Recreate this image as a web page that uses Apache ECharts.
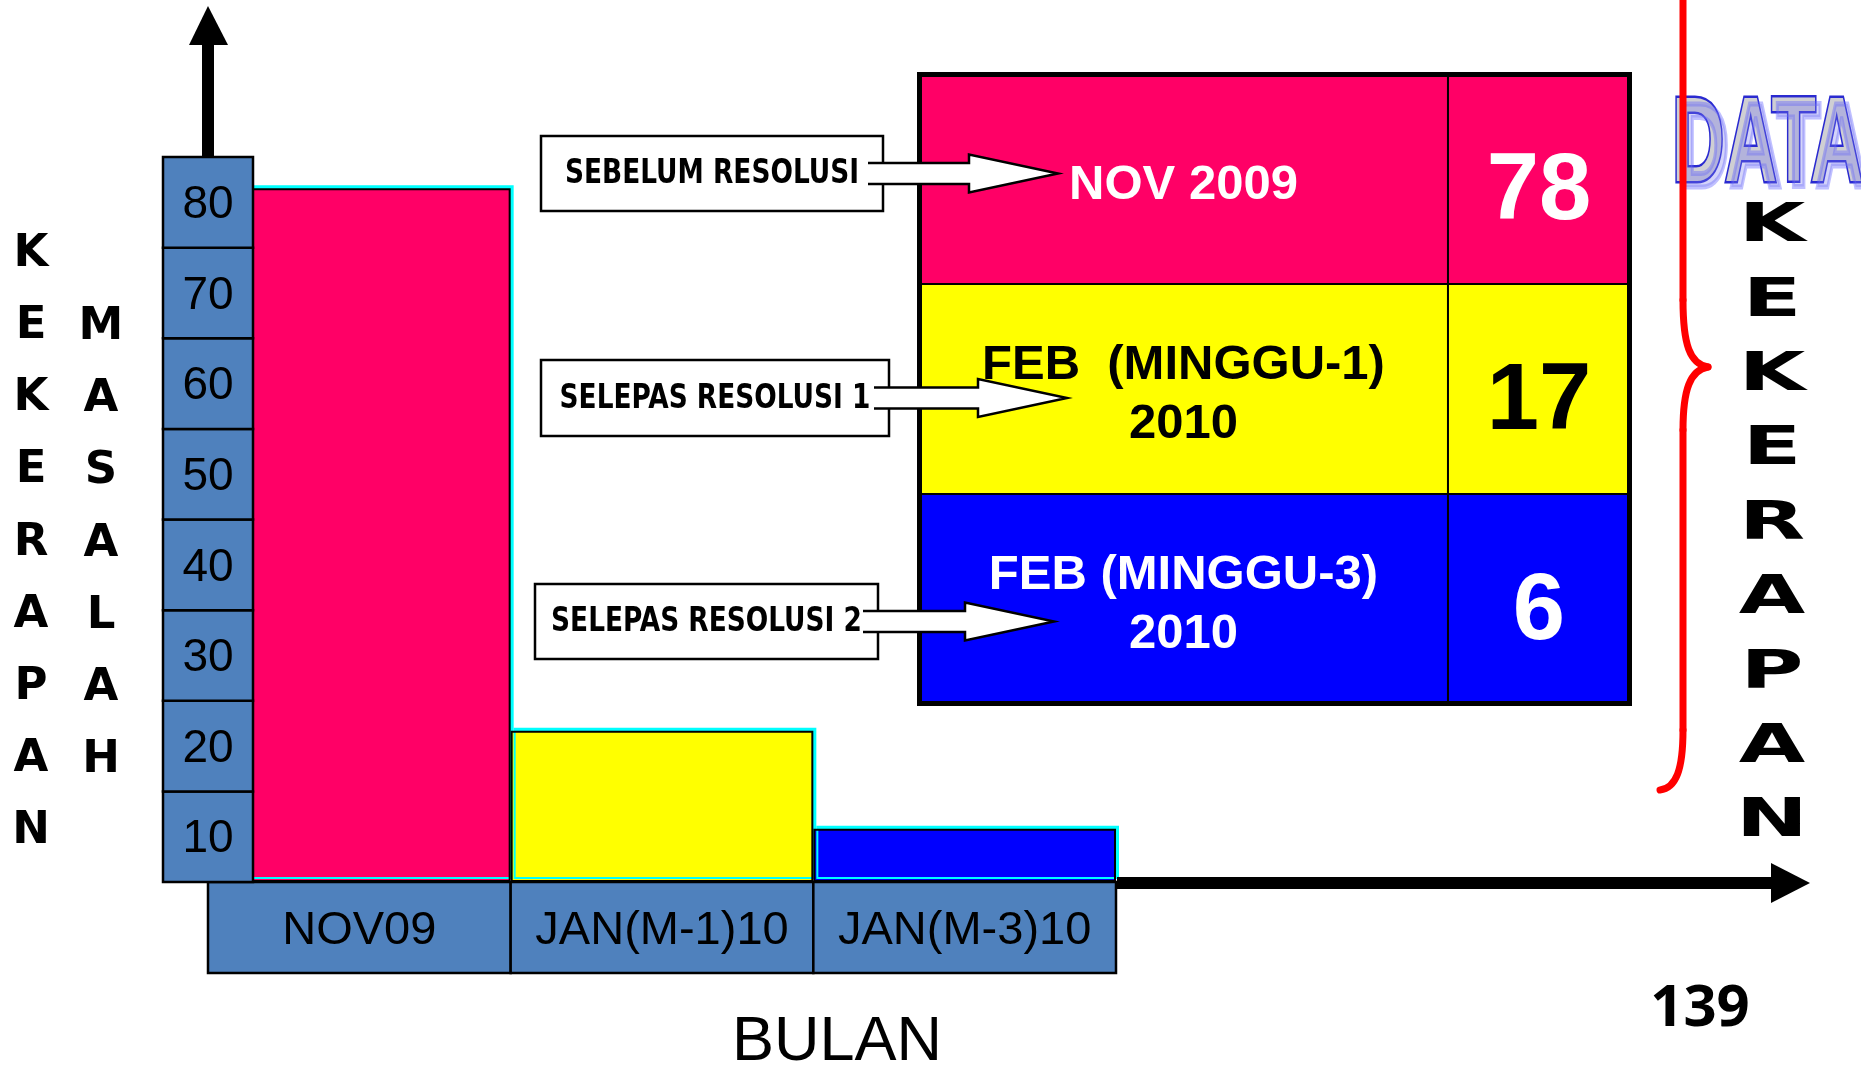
<!DOCTYPE html>
<html>
<head>
<meta charset="utf-8">
<script src="https://cdn.jsdelivr.net/npm/echarts@6/dist/echarts.min.js"></script>
<style>
  html, body { margin: 0; padding: 0; background: #ffffff; }
  #chart { width: 1861px; height: 1070px; }
</style>
</head>
<body>
<div id="chart"></div>
<script>
// Monthly problem counts before and after each resolution step
const months = ['NOV09', 'JAN(M-1)10', 'JAN(M-3)10'];
const counts = [78, 17, 6];
const yTicks = ['10', '20', '30', '40', '50', '60', '70', '80'];
const periods = ['NOV 2009', 'FEB  (MINGGU-1)\n2010', 'FEB (MINGGU-3)\n2010'];
const stages = ['SEBELUM RESOLUSI', 'SELEPAS RESOLUSI 1', 'SELEPAS RESOLUSI 2'];
const yTitleLeft = 'KEKERAPAN';
const yTitleRight = 'MASALAH';
const xTitle = 'BULAN';
const sideTitle = 'KEKERAPAN';
const bannerWord = 'DATA';
const pageNo = '139';

// Styling
const fills = ['#ff0066', '#ffff00', '#0000ff'];
const inkOnFill = ['#ffffff', '#000000', '#ffffff'];
const boxBlue = '#4f81bd';
const ARIAL = "'Liberation Sans', Arial, sans-serif";
const NARROW = "'Liberation Sans Narrow', 'DejaVu Sans Condensed', 'Liberation Sans', sans-serif";
const HEAVY = "'DejaVu Sans', sans-serif";

// Callout boxes with their arrows into the summary table
const calloutBoxes = [
  { x: 541, y: 136, w: 342, h: 75, head: 969, tip: 1058 },
  { x: 541, y: 360, w: 348, h: 76, head: 978, tip: 1067 },
  { x: 535, y: 584, w: 343, h: 75, head: 965, tip: 1054 }
];

function txt(style) {
  if (style.align) style.textAlign = style.align;
  if (style.verticalAlign) style.textVerticalAlign = style.verticalAlign;
  return style;
}

const graphics = [];

// Axis arrows
graphics.push({ type: 'rect', z: 6, shape: { x: 202, y: 44, width: 12, height: 113 }, style: { fill: '#000' } });
graphics.push({ type: 'polygon', z: 6, shape: { points: [[189, 45], [228, 45], [208, 6]] }, style: { fill: '#000' } });
graphics.push({ type: 'rect', z: 6, shape: { x: 1117, y: 877, width: 656, height: 12 }, style: { fill: '#000' } });
graphics.push({ type: 'polygon', z: 6, shape: { points: [[1771, 863], [1810, 883], [1771, 903]] }, style: { fill: '#000' } });

// Outer frame of the summary table
graphics.push({ type: 'rect', z: 7, shape: { x: 919.5, y: 74.5, width: 710, height: 629 },
  style: { fill: null, stroke: '#000', lineWidth: 5 } });

// Callouts
calloutBoxes.forEach((b, i) => {
  const cy = b.y + b.h / 2;
  const sx = b.x + b.w - 15, s = 10.5, hh = 19;
  const pts = [[sx, cy - s], [b.head, cy - s], [b.head, cy - hh], [b.tip, cy],
               [b.head, cy + hh], [b.head, cy + s], [sx, cy + s]];
  graphics.push({ type: 'rect', z: 8, shape: { x: b.x, y: b.y, width: b.w, height: b.h },
    style: { fill: '#fff', stroke: '#000', lineWidth: 2.5 } });
  graphics.push({ type: 'polygon', z: 9, shape: { points: pts }, style: { fill: '#fff' } });
  graphics.push({ type: 'polyline', z: 9, shape: { points: pts }, style: { fill: null, stroke: '#000', lineWidth: 2.5 } });
  graphics.push({ type: 'text', z: 10, x: b.x + b.w / 2, y: cy + 1, scaleX: 0.89,
    style: txt({ text: stages[i], x: 0, y: 0, fill: '#000', font: 'bold 33px ' + NARROW,
      align: 'center', verticalAlign: 'middle' }) });
});

// Vertical axis titles on the left
graphics.push({ type: 'text', z: 6, style: txt({ text: yTitleLeft.split('').join('\n'), x: 31, y: 543,
  fill: '#000', font: 'bold 45px ' + HEAVY, lineHeight: 72.2, align: 'center', verticalAlign: 'middle' }) });
graphics.push({ type: 'text', z: 6, style: txt({ text: yTitleRight.split('').join('\n'), x: 101, y: 544,
  fill: '#000', font: 'bold 45px ' + HEAVY, lineHeight: 72.2, align: 'center', verticalAlign: 'middle' }) });

// Horizontal axis title and page number
graphics.push({ type: 'text', z: 6, style: txt({ text: xTitle, x: 837, y: 1043, fill: '#000',
  font: '63px ' + ARIAL, align: 'center', verticalAlign: 'middle' }) });
graphics.push({ type: 'text', z: 6, style: txt({ text: pageNo, x: 1700, y: 1009, fill: '#000',
  font: "bold 58px 'Open Sans', 'Noto Sans', sans-serif", align: 'center', verticalAlign: 'middle' }) });

// Banner word with a translucent offset copy
graphics.push({ type: 'text', z: 11, x: 1672, y: 148, scaleX: 0.6,
  style: txt({ text: bannerWord, x: 0, y: 0, fill: '#cfcfd3', stroke: '#2a2ad0', lineWidth: 5,
    font: 'bold 121px ' + ARIAL, align: 'left', verticalAlign: 'middle' }) });
graphics.push({ type: 'text', z: 11, x: 1677, y: 154, scaleX: 0.6,
  style: txt({ text: bannerWord, x: 0, y: 0, fill: 'rgba(120,120,235,0.32)', stroke: 'rgba(90,90,255,0.38)', lineWidth: 5,
    font: 'bold 121px ' + ARIAL, align: 'left', verticalAlign: 'middle' }) });

// Side title, stretched wide
graphics.push({ type: 'text', z: 6, x: 1772, y: 525, scaleX: 1.62,
  style: txt({ text: sideTitle.split('').join('\n'), x: 0, y: 0, fill: '#000', font: 'bold 53px ' + HEAVY,
    lineHeight: 74.4, align: 'center', verticalAlign: 'middle' }) });

// Red brace built from straight runs and curves
const braceStyle = { fill: null, stroke: '#ff0000', lineWidth: 7, lineCap: 'round' };
graphics.push({ type: 'line', z: 12, shape: { x1: 1683, y1: -6, x2: 1683, y2: 300 }, style: braceStyle });
graphics.push({ type: 'bezierCurve', z: 12, shape: { x1: 1683, y1: 300, cpx1: 1683, cpy1: 345, cpx2: 1690, cpy2: 364, x2: 1708, y2: 367 }, style: braceStyle });
graphics.push({ type: 'bezierCurve', z: 12, shape: { x1: 1708, y1: 367, cpx1: 1690, cpy1: 370, cpx2: 1683, cpy2: 390, x2: 1683, y2: 430 }, style: braceStyle });
graphics.push({ type: 'line', z: 12, shape: { x1: 1683, y1: 430, x2: 1683, y2: 730 }, style: braceStyle });
graphics.push({ type: 'bezierCurve', z: 12, shape: { x1: 1683, y1: 730, cpx1: 1683, cpy1: 770, cpx2: 1676, cpy2: 788, x2: 1660, y2: 790 }, style: braceStyle });

const chart = echarts.init(document.getElementById('chart'), null, { renderer: 'canvas' });

chart.setOption({
  backgroundColor: '#ffffff',
  animation: false,
  grid: [
    { left: 208, top: 157, width: 908, height: 725 },   // bars
    { left: 208, top: 882, width: 908, height: 91 },    // month boxes
    { left: 163, top: 157, width: 90, height: 725 },    // tick boxes
    { left: 919, top: 74, width: 711, height: 630 }     // summary table
  ],
  xAxis: [
    { gridIndex: 0, type: 'category', data: months, show: false },
    { gridIndex: 1, type: 'category', data: months, show: false },
    { gridIndex: 2, type: 'value', min: 0, max: 1, show: false },
    { gridIndex: 3, type: 'value', min: 0, max: 1, show: false }
  ],
  yAxis: [
    { gridIndex: 0, type: 'value', min: 0, max: 81.5, show: false },
    { gridIndex: 1, type: 'value', min: 0, max: 1, show: false },
    { gridIndex: 2, type: 'category', data: yTicks, show: false },
    { gridIndex: 3, type: 'category', data: periods, inverse: true, show: false }
  ],
  graphic: { elements: graphics },
  series: [
    {
      type: 'bar', xAxisIndex: 0, yAxisIndex: 0, barWidth: '100%', z: 2, silent: true,
      data: counts.map((v, i) => ({ value: v, itemStyle: { color: fills[i] } })),
      itemStyle: { borderColor: '#000', borderWidth: 2, shadowColor: '#00ffff',
                   shadowOffsetX: 3, shadowOffsetY: -3, shadowBlur: 0 }
    },
    {
      type: 'custom', xAxisIndex: 1, yAxisIndex: 1, z: 3, silent: true,
      data: months.map((m, i) => [i, 1]),
      renderItem: (params, api) => {
        const i = api.value(0);
        const top = api.coord([i, 1]);
        const bot = api.coord([i, 0]);
        const w = api.size([1, 0])[0];
        return { type: 'group', children: [
          { type: 'rect', shape: { x: top[0] - w / 2, y: top[1], width: w, height: bot[1] - top[1] },
            style: { fill: boxBlue, stroke: '#000', lineWidth: 2.5 } },
          { type: 'text', style: txt({ text: months[i], x: top[0], y: (top[1] + bot[1]) / 2 + 4,
            fill: '#000', font: '47px ' + ARIAL, align: 'center', verticalAlign: 'middle' }) }
        ] };
      }
    },
    {
      type: 'custom', xAxisIndex: 2, yAxisIndex: 2, z: 5, silent: true,
      data: yTicks.map((t, i) => [1, i]),
      renderItem: (params, api) => {
        const k = api.value(1);
        const a = api.coord([0, k]);
        const b = api.coord([1, k]);
        const h = api.size([0, 1])[1];
        return { type: 'group', children: [
          { type: 'rect', shape: { x: a[0], y: a[1] - h / 2, width: b[0] - a[0], height: h },
            style: { fill: boxBlue, stroke: '#000', lineWidth: 2.5 } },
          { type: 'text', style: txt({ text: yTicks[k], x: (a[0] + b[0]) / 2, y: a[1] + 3,
            fill: '#000', font: '46px ' + ARIAL, align: 'center', verticalAlign: 'middle' }) }
        ] };
      }
    },
    {
      type: 'custom', xAxisIndex: 3, yAxisIndex: 3, z: 2, silent: true,
      data: periods.map((p, i) => [1, i, counts[i]]),
      renderItem: (params, api) => {
        const r = api.value(1);
        const cs = params.coordSys;
        const yc = api.coord([0, r])[1];
        const h = api.size([0, 1])[1];
        const split = cs.x + cs.width * 0.744;
        const right = cs.x + cs.width;
        return { type: 'group', children: [
          { type: 'rect', shape: { x: cs.x, y: yc - h / 2, width: split - cs.x, height: h },
            style: { fill: fills[r], stroke: '#000', lineWidth: 2 } },
          { type: 'rect', shape: { x: split, y: yc - h / 2, width: right - split, height: h },
            style: { fill: fills[r], stroke: '#000', lineWidth: 2 } },
          { type: 'text', style: txt({ text: periods[r], x: (cs.x + split) / 2, y: yc + 6,
            fill: inkOnFill[r], font: 'bold 49px ' + ARIAL, lineHeight: 59,
            align: 'center', verticalAlign: 'middle' }) },
          { type: 'text', style: txt({ text: String(api.value(2)), x: (split + right) / 2, y: yc + 14,
            fill: inkOnFill[r], font: 'bold 94px ' + ARIAL, align: 'center', verticalAlign: 'middle' }) }
        ] };
      }
    }
  ]
});
</script>
</body>
</html>
